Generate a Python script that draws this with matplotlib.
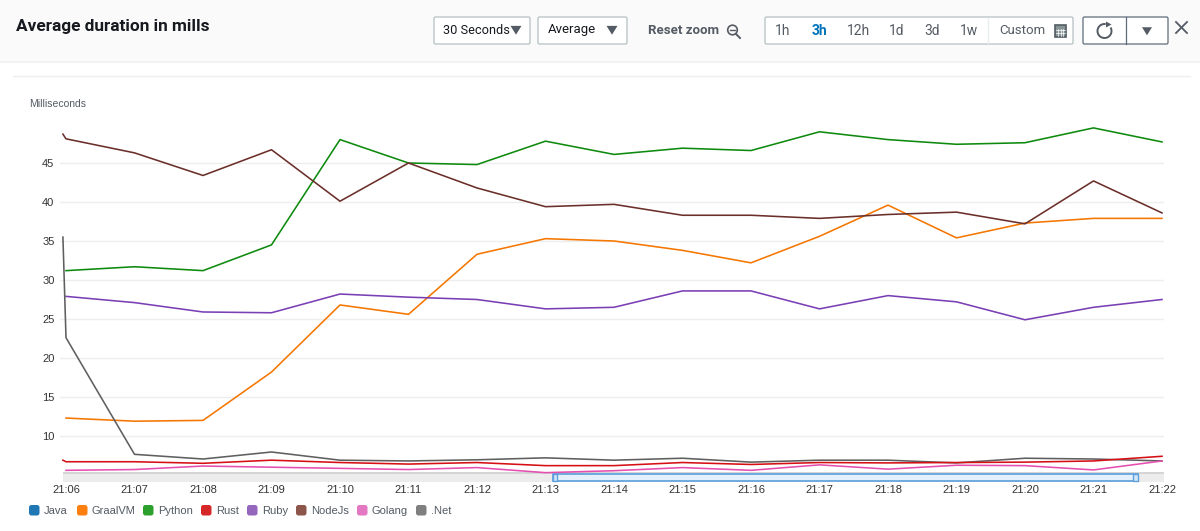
import matplotlib
matplotlib.use("Agg")
import matplotlib.pyplot as plt
from matplotlib.patches import Arc, Circle, FancyBboxPatch, Polygon, Rectangle

W, H = 1200, 531

tick_labels = ["21:06", "21:07", "21:08", "21:09", "21:10", "21:11", "21:12", "21:13", "21:14",
               "21:15", "21:16", "21:17", "21:18", "21:19", "21:20", "21:21", "21:22"]
minutes = list(range(17))
y_ticks = [10, 15, 20, 25, 30, 35, 40, 45]

graalvm = [12.3, 11.9, 12.0, 18.2, 26.8, 25.6, 33.3, 35.3, 35.0, 33.8, 32.2, 35.6, 39.6, 35.4, 37.3, 37.9, 37.9]
python = [31.2, 31.7, 31.2, 34.5, 48.0, 45.0, 44.8, 47.8, 46.1, 46.9, 46.6, 49.0, 48.0, 47.4, 47.6, 49.5, 47.7]
rust = [6.7, 6.7, 6.5, 6.9, 6.6, 6.4, 6.6, 6.2, 6.2, 6.6, 6.35, 6.6, 6.55, 6.6, 6.65, 6.8, 7.4]
ruby = [27.9, 27.1, 25.9, 25.8, 28.2, 27.8, 27.5, 26.3, 26.5, 28.6, 28.6, 26.3, 28.0, 27.2, 24.9, 26.5, 27.5]
nodejs = [48.1, 46.3, 43.4, 46.7, 40.1, 45.0, 41.8, 39.4, 39.7, 38.3, 38.3, 37.9, 38.4, 38.7, 37.2, 42.7, 38.6]
golang = [5.6, 5.7, 6.15, 6.0, 5.85, 5.7, 5.95, 5.3, 5.55, 5.95, 5.6, 6.3, 5.75, 6.25, 6.2, 5.65, 6.8]
dotnet = [22.6, 7.65, 7.05, 7.95, 6.9, 6.8, 6.95, 7.2, 6.9, 7.15, 6.65, 6.9, 6.9, 6.55, 7.15, 7.05, 6.8]

# a few series start with one extra sample just before 21:06
early_x = -0.045
nodejs_start = 48.7
dotnet_start = 35.5
rust_start = 6.9

fig = plt.figure(figsize=(W / 100, H / 100), dpi=100, facecolor="white")

# pixel coords overlay for the console furniture around the chart
ui = fig.add_axes([0, 0, 1, 1], zorder=0)
ui.set_xlim(0, W)
ui.set_ylim(H, 0)
ui.axis("off")

ui.add_patch(Rectangle((0, 0), W, 61, fc="#fafafa", ec="none"))
ui.plot([0, W], [61.5, 61.5], color="#f0f0f0", lw=1.2)
ui.plot([13, 1190], [75.5, 75.5], color="#eeeeee", lw=1)

ui_font = "Roboto"
ui.text(16, 26, "Average duration in mills", fontsize=12.4, fontweight="bold", family=ui_font, color="#16191f", va="center")


def box(x0, x1, y0=17, y1=44, ec="#b4c0c1", lw=0.9):
    ui.add_patch(FancyBboxPatch((x0, y0), x1 - x0, y1 - y0, boxstyle="round,pad=0,rounding_size=1.5",
                                fc="white", ec=ec, lw=lw))


def tri(cx, cy, size=5.5, color="#545b64"):
    ui.add_patch(Polygon([(cx - size, cy - size * 0.75), (cx + size, cy - size * 0.75), (cx, cy + size * 0.85)],
                         fc=color, ec="none", zorder=3))


box(434, 530)
box(538, 627)
ui.text(443, 30, "30 Seconds", fontsize=9.2, family=ui_font, color="#16191f", va="center")
tri(516, 30)
ui.text(548, 30, "Average", fontsize=9.5, family=ui_font, color="#16191f", va="center")
tri(612, 30)

ui.text(648, 30, "Reset zoom", fontsize=9.5, fontweight="bold", family=ui_font, color="#545b64", va="center")
ui.add_patch(Circle((732.5, 30), 4.8, fc="none", ec="#545b64", lw=1.2))
ui.plot([736, 740], [34, 38], color="#545b64", lw=1.4)
ui.plot([730, 735], [30, 30], color="#545b64", lw=1)

box(765, 1073)
ui.plot([988, 988], [18, 43], color="#eaeded", lw=1)
range_labels = ["1h", "3h", "12h", "1d", "3d", "1w"]
range_x = [783, 819, 858, 897, 932, 969]
for label, x in zip(range_labels, range_x):
    selected = label == "3h"
    ui.text(x, 31, label, fontsize=10, ha="center", va="center", family=ui_font,
            color="#0073bb" if selected else "#545b64", fontweight="bold" if selected else "normal")
ui.text(999, 31, "Custom", fontsize=9.5, family=ui_font, color="#545b64", va="center")
ui.add_patch(Rectangle((1055, 25), 11, 12, fc="#879596", ec="#545b64", lw=1.2))
for gx in (1058, 1060.5, 1063):
    ui.plot([gx, gx], [28.5, 36], color="white", lw=0.5)
for gy in (30, 33):
    ui.plot([1056, 1065], [gy, gy], color="white", lw=0.5)

box(1083, 1168, ec="#5f6b7a")
ui.plot([1125.5, 1125.5], [17, 44], color="#5f6b7a", lw=0.9)
ui.add_patch(Arc((1104.5, 31), 14, 14, theta1=-30, theta2=280, color="#545b64", lw=1.4))
ui.add_patch(Polygon([(1106, 21.5), (1111.5, 24.5), (1106, 27.5)], fc="#545b64", ec="none"))
tri(1147, 31, size=5)
ui.plot([1176, 1187], [22, 33], color="#545b64", lw=1.3)
ui.plot([1187, 1176], [22, 33], color="#545b64", lw=1.3)

ui.text(29, 104, "Milliseconds", fontsize=7.5, family="Liberation Sans", color="#545b64", va="center")

# minimap strip under the plot
ui.add_patch(Rectangle((63, 472), 1101, 10, fc="#ececec", ec="none"))
ui.add_patch(Rectangle((63, 472), 1101, 1.5, fc="#d5d5d5", ec="none"))
ui.add_patch(Rectangle((552.5, 473.5), 585, 7.5, fc="#e4f1fc", ec="#5b9fdc", lw=1.2))
for hx in (552.5, 1133):
    ui.add_patch(Rectangle((hx, 473.5), 4.5, 7.5, fc="#d4e7f8", ec="#5b9fdc", lw=1))

# chart axes, placed to line up with the pixel grid of the reference
left, right, top, bottom = 60, 1164, 120, 482
ax = fig.add_axes([left / W, 1 - bottom / H, (right - left) / W, (bottom - top) / H], zorder=1)
ax.patch.set_alpha(0)
ax.set_xlim((left - 66) / 68.5, (right - 66) / 68.5)
ax.set_ylim(10 - (bottom - 436) / 7.8, 10 + (436 - top) / 7.8)
for side in ax.spines.values():
    side.set_visible(False)
ax.set_yticks(y_ticks)
ax.set_xticks(minutes)
ax.set_xticklabels(tick_labels)
ax.tick_params(length=0, labelsize=8, labelcolor="#333333", pad=2)
ax.tick_params(axis="y", pad=4)
ax.tick_params(axis="x", pad=2)
for label in ax.get_xticklabels() + ax.get_yticklabels():
    label.set_family("Liberation Sans")
ax.grid(axis="y", color="#eeeeee", lw=1)
ax.set_axisbelow(True)

lw = 1.15
ax.plot(minutes, graalvm, color="#f57600", lw=lw)
ax.plot(minutes, python, color="#0e8a0e", lw=lw)
ax.plot(minutes, ruby, color="#7a3fb5", lw=lw)
ax.plot([early_x] + minutes, [nodejs_start] + nodejs, color="#6b2f2a", lw=lw)
ax.plot([early_x] + minutes, [dotnet_start] + dotnet, color="#5f5f5f", lw=lw)
ax.plot(minutes, golang, color="#e54fb0", lw=lw)
ax.plot([early_x] + minutes, [rust_start] + rust, color="#d60f14", lw=lw)

# legend swatches, Java has no line drawn in the visible range
legend_names = ["Java", "GraalVM", "Python", "Rust", "Ruby", "NodeJs", "Golang", ".Net"]
legend_colors = ["#1f77b4", "#ff7f0e", "#2ca02c", "#d62728", "#9467bd", "#8c564b", "#e377c2", "#7f7f7f"]
legend_x = [29, 77, 143, 201, 247, 296, 357, 416]
for name, color, x in zip(legend_names, legend_colors, legend_x):
    ui.add_patch(FancyBboxPatch((x + 1, 506), 8.5, 8.5, boxstyle="round,pad=1,rounding_size=2.5", fc=color, ec="none"))
    ui.text(x + 15, 510.5, name, fontsize=8, family="Liberation Sans", color="#545b64", va="center")

fig.savefig("out.png", dpi=100)
